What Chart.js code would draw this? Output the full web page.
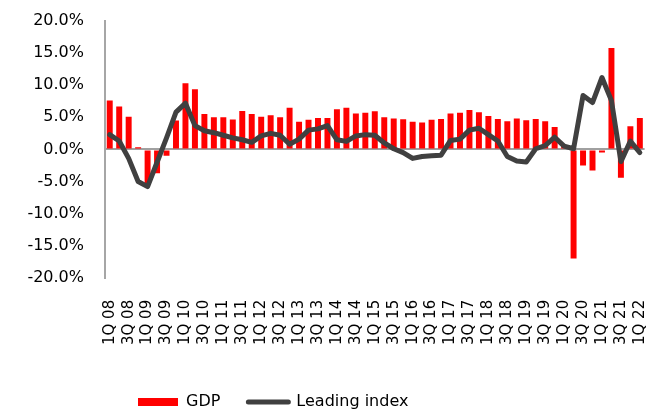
<!DOCTYPE html>
<html>
<head>
<meta charset="utf-8">
<script src="https://cdn.jsdelivr.net/npm/chart.js@4"></script>
<style>
  html, body { margin: 0; padding: 0; background: #fff; }
  #wrap { width: 672px; height: 414px; position: relative; }
</style>
</head>
<body>
<div id="wrap"><canvas id="gdpChart"></canvas></div>
<script>
// quarters 1Q 08 .. 1Q 22
const quarters = [
  '1Q 08','2Q 08','3Q 08','4Q 08','1Q 09','2Q 09','3Q 09','4Q 09',
  '1Q 10','2Q 10','3Q 10','4Q 10','1Q 11','2Q 11','3Q 11','4Q 11',
  '1Q 12','2Q 12','3Q 12','4Q 12','1Q 13','2Q 13','3Q 13','4Q 13',
  '1Q 14','2Q 14','3Q 14','4Q 14','1Q 15','2Q 15','3Q 15','4Q 15',
  '1Q 16','2Q 16','3Q 16','4Q 16','1Q 17','2Q 17','3Q 17','4Q 17',
  '1Q 18','2Q 18','3Q 18','4Q 18','1Q 19','2Q 19','3Q 19','4Q 19',
  '1Q 20','2Q 20','3Q 20','4Q 20','1Q 21','2Q 21','3Q 21','4Q 21',
  '1Q 22'
];

const gdp = [
  7.6, 6.7, 5.1, 0.35, -5.5, -3.7, -1.0, 4.5, 10.3, 9.35,
  5.5, 5.0, 5.0, 4.65, 6.0, 5.5, 5.1, 5.3, 5.0, 6.5,
  4.3, 4.6, 4.9, 4.9, 6.25, 6.5, 5.6, 5.7, 5.95, 5.0,
  4.8, 4.7, 4.3, 4.2, 4.6, 4.75, 5.6, 5.7, 6.15, 5.8,
  5.2, 4.75, 4.4, 4.8, 4.55, 4.75, 4.4, 3.5, 0.7, -17.0,
  -2.5, -3.3, -0.5, 15.8, -4.4, 3.6, 4.9
];

const leadingIndex = [
  2.3, 1.3, -1.4, -5.0, -5.8, -2.0, 1.8, 5.8, 7.2, 3.7,
  2.9, 2.6, 2.2, 1.8, 1.5, 1.1, 2.1, 2.5, 2.2, 0.8,
  1.6, 3.0, 3.2, 3.7, 1.5, 1.25, 2.1, 2.3, 2.2, 1.0,
  0.1, -0.5, -1.4, -1.1, -1.0, -0.9, 1.4, 1.6, 3.0, 3.3,
  2.3, 1.3, -1.1, -1.8, -1.95, 0.1, 0.6, 1.9, 0.5, 0.1,
  8.4, 7.3, 11.2, 7.6, -1.9, 1.3, -0.5
];

const yTicks = [-20, -15, -10, -5, 0, 5, 10, 15, 20];

const FONT = 'DejaVu Sans';

// move the legend to where the original has it
const legendShift = {
  id: 'legendShift',
  afterLayout(chart) {
    const lg = chart.legend;
    const w = lg.right - lg.left;
    lg.left = 110;
    lg.right = 110 + w;
    const h = lg.bottom - lg.top;
    lg.top = 366;
    lg.bottom = 366 + h;
  }
};

const ctx = document.getElementById('gdpChart').getContext('2d');
const chart = new Chart(ctx, {
  data: {
    labels: quarters,
    datasets: [
      {
        type: 'bar',
        label: 'GDP',
        data: gdp,
        backgroundColor: '#ff0000',
        borderWidth: 0,
        barPercentage: 0.63,
        categoryPercentage: 1.0,
        order: 2
      },
      {
        type: 'line',
        label: 'Leading index',
        data: leadingIndex,
        borderColor: '#404040',
        backgroundColor: '#404040',
        borderWidth: 5,
        borderJoinStyle: 'round',
        borderCapStyle: 'round',
        tension: 0,
        pointRadius: 0,
        fill: false,
        order: 1
      }
    ]
  },
  options: {
    responsive: true,
    maintainAspectRatio: false,
    animation: false,
    layout: { padding: { left: 16, right: 18, top: 21, bottom: 1 } },
    scales: {
      x: {
        grid: { display: false },
        border: { display: false },
        ticks: {
          autoSkip: false,
          maxRotation: 90,
          minRotation: 90,
          padding: 14,
          color: '#000',
          font: { family: FONT, size: 15 },
          callback: (v, i) => (i % 2 === 0 ? quarters[i] : '')
        }
      },
      y: {
        min: -20,
        max: 20,
        afterBuildTicks: (s) => { s.ticks = yTicks.map(v => ({ value: v })); },
        afterFit: (s) => { s.width = 89; },
        grid: {
          drawTicks: true,
          tickLength: 18,
          tickColor: 'rgba(0,0,0,0)',
          lineWidth: 2,
          color: (c) => (c.tick && c.tick.value === 0 ? '#a0a0a0' : 'rgba(0,0,0,0)')
        },
        border: { display: true, color: '#a6a6a6', width: 2 },
        ticks: {
          padding: 3,
          color: '#000',
          font: { family: FONT, size: 16 },
          callback: (v) => v.toFixed(1) + '%'
        }
      }
    },
    plugins: {
      tooltip: { enabled: false },
      legend: {
        position: 'bottom',
        align: 'start',
        labels: {
          usePointStyle: true,
          pointStyleWidth: 40,
          boxHeight: 8,
          padding: 28,
          color: '#000',
          font: { family: FONT, size: 16 },
          generateLabels: (c) => c.data.datasets.map((ds, i) => ({
            text: ds.label,
            datasetIndex: i,
            fillStyle: ds.backgroundColor,
            strokeStyle: i === 0 ? ds.backgroundColor : ds.borderColor,
            lineWidth: i === 0 ? 0 : 5,
            lineCap: 'round',
            pointStyle: i === 0 ? 'rect' : 'line',
            hidden: false
          }))
        }
      }
    }
  },
  plugins: [legendShift]
});
</script>
</body>
</html>
